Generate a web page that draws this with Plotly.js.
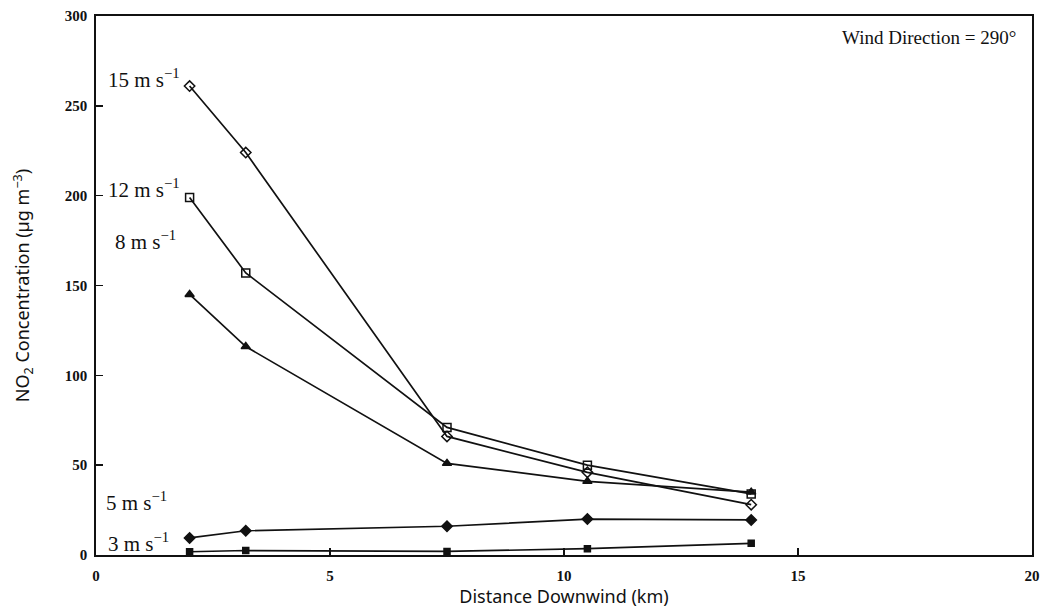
<!DOCTYPE html>
<html>
<head>
<meta charset="utf-8">
<script src="https://cdn.plot.ly/plotly-3.0.1.min.js"></script>
<style>
  html, body { margin: 0; padding: 0; background: #fff; }
  #chart { width: 1046px; height: 612px; }
</style>
</head>
<body>
<div id="chart"></div>
<script>
// Distance downwind (km) at which NO2 was evaluated
const distance = [2, 3.2, 7.5, 10.5, 14];

// NO2 concentration (µg m^-3) for each wind speed
const speed15 = [261, 224, 66, 46, 28];
const speed12 = [199, 157, 71, 50, 34];
const speed8  = [145, 116, 51, 41, 35];
const speed5  = [9.5, 13.5, 16, 20, 19.5];
const speed3  = [1.8, 2.5, 2, 3.5, 6.5];

const seriesNames = ['15 m s<sup>−1</sup>', '12 m s<sup>−1</sup>', '8 m s<sup>−1</sup>', '5 m s<sup>−1</sup>', '3 m s<sup>−1</sup>'];
const seriesValues = [speed15, speed12, speed8, speed5, speed3];
const seriesSymbols = ['diamond-open', 'square-open', 'triangle-up', 'diamond', 'square'];

// Label anchor positions in data units (x, y) for each curve
const labelX = [0.22, 0.22, 0.36, 0.18, 0.22];
const labelY = [265, 204, 175, 30, 7];

const serif = 'Liberation Serif, DejaVu Serif, serif';
const tickFont = { family: serif, size: 15, color: '#111', weight: 'bold' };
const titleFont = { family: 'Noto Sans, DejaVu Sans, sans-serif', size: 18, color: '#111' };

const traces = seriesValues.map((vals, i) => ({
  x: distance,
  y: vals,
  type: 'scatter',
  mode: 'lines+markers',
  name: seriesNames[i],
  line: { color: '#111', width: 1.7 },
  marker: {
    symbol: seriesSymbols[i],
    size: seriesSymbols[i] === 'square' ? 6 : 8,
    color: '#111',
    line: { color: '#111', width: 1.5 }
  },
  showlegend: false,
  hoverinfo: 'x+y'
}));

const annotations = seriesNames.map((txt, i) => ({
  x: labelX[i], y: labelY[i], xref: 'x', yref: 'y',
  text: txt, showarrow: false, xanchor: 'left', yanchor: 'middle',
  font: { family: serif, size: 21, color: '#111' }
}));

annotations.push({
  x: 19.7, y: 288, xref: 'x', yref: 'y',
  text: 'Wind Direction = 290°', showarrow: false, xanchor: 'right', yanchor: 'middle',
  font: { family: serif, size: 19, color: '#111' }
});

const layout = {
  width: 1046, height: 612,
  margin: { l: 96, r: 14, t: 16, b: 57 },
  paper_bgcolor: '#fff', plot_bgcolor: '#fff',
  xaxis: {
    range: [0, 20], tickvals: [0, 5, 10, 15, 20],
    ticks: 'inside', ticklen: 7, tickwidth: 1.5, tickcolor: '#111',
    showline: true, linecolor: '#111', linewidth: 1.8, mirror: true,
    showgrid: false, zeroline: false,
    tickfont: tickFont, ticklabelstandoff: 6,
    title: { text: 'Distance Downwind (km)', font: titleFont, standoff: 6 }
  },
  yaxis: {
    range: [0, 300], tickvals: [0, 50, 100, 150, 200, 250, 300],
    ticks: 'inside', ticklen: 7, tickwidth: 1.5, tickcolor: '#111',
    showline: true, linecolor: '#111', linewidth: 1.8, mirror: true,
    showgrid: false, zeroline: false,
    tickfont: tickFont, ticklabelstandoff: 4,
    title: { text: 'NO<sub>2</sub> Concentration (µg m<sup>−3</sup>)', font: titleFont, standoff: 30 }
  },
  annotations: annotations
};

Plotly.newPlot('chart', traces, layout, { displayModeBar: false, staticPlot: true });
</script>
</body>
</html>
